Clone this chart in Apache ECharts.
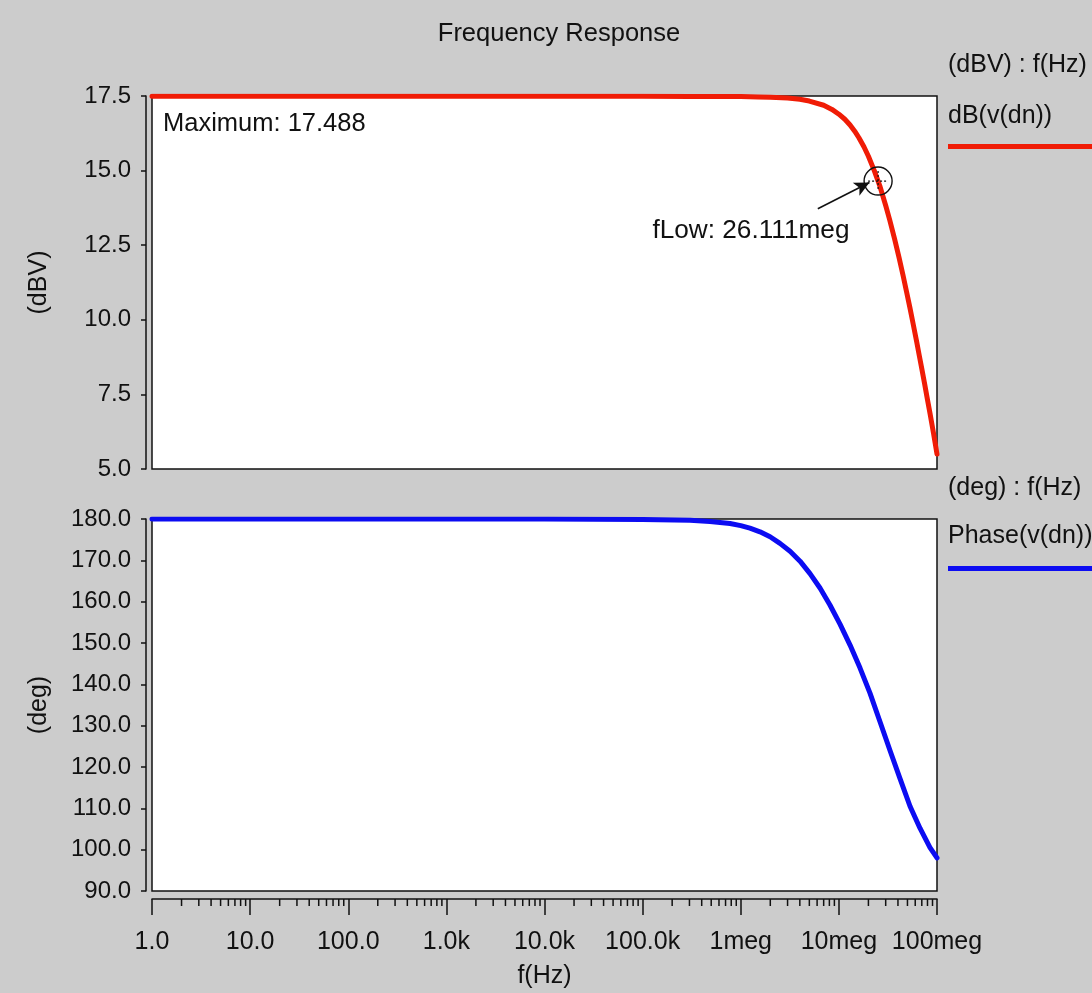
<!DOCTYPE html>
<html>
<head>
<meta charset="utf-8">
<script src="https://cdn.jsdelivr.net/npm/echarts@6/dist/echarts.min.js"></script>
<style>
html,body{margin:0;padding:0;background:#cccccc;}
#chart{width:1092px;height:993px;}
</style>
</head>
<body>
<div id="chart"></div>
<script>
// ---- data ----
const dbFreqHz = [1, 10, 100, 1e3, 1e4, 1e5, 3e5, 1e6, 1.5e6, 2e6, 3e6, 4e6, 5e6, 7e6, 8.5e6, 1e7, 1.15e7, 1.3e7, 1.45e7, 1.6e7, 1.8e7, 2e7, 2.3e7, 2.6111e7, 3e7, 3.3e7, 3.7e7, 4.1e7, 4.5e7, 4.9e7, 5.3e7, 5.7e7, 6.2e7, 6.6e7, 7e7, 7.5e7, 8e7, 8.5e7, 9.2e7, 1e8];
const dbValues = [17.488, 17.488, 17.488, 17.488, 17.488, 17.488, 17.487, 17.48, 17.47, 17.46, 17.43, 17.39, 17.33, 17.19, 17.05, 16.89, 16.72, 16.53, 16.32, 16.1, 15.8, 15.48, 14.99, 14.49, 13.83, 13.34, 12.7, 12.09, 11.5, 10.93, 10.4, 9.88, 9.27, 8.8, 8.36, 7.83, 7.32, 6.85, 6.21, 5.5];
const phaseFreqHz = [1, 10, 100, 1e3, 1e4, 1e5, 3.04e5, 4.86e5, 7.78e5, 1e6, 1.24e6, 1.57e6, 1.99e6, 2.51e6, 3.18e6, 4.02e6, 5.08e6, 6.42e6, 8.11e6, 1.03e7, 1.3e7, 1.64e7, 2.08e7, 2.62e7, 3.32e7, 4.2e7, 5.31e7, 6.71e7, 8.49e7, 1e8];
const phaseValues = [180, 180, 180, 180, 179.98, 179.9, 179.7, 179.4, 178.9, 178.4, 177.8, 176.9, 175.7, 174.1, 172.2, 169.8, 166.8, 163.3, 159.2, 154.5, 149.5, 144, 137.8, 131, 124, 117.2, 110.5, 105.2, 100.5, 98];
const xTickLabels = ['1.0', '10.0', '100.0', '1.0k', '10.0k', '100.0k', '1meg', '10meg', '100meg'];
const minorTickMultipliers = [2, 3, 4, 5, 6, 7, 8, 9];
const decades = [1, 10, 100, 1e3, 1e4, 1e5, 1e6, 1e7];
const maxLabel = 'Maximum: 17.488';
const fLowLabel = 'fLow: 26.111meg';
const fLowMarker = { f: 2.51e7, v: 14.65 };
const arrowStart = { f: 6.1e6, v: 13.72 };
const arrowEnd = { f: 2.05e7, v: 14.6 };
const fLowLabelPos = { f: 1.27e6, v: 13.0 };

const FONT = '"Liberation Sans", Arial, Helvetica, sans-serif';
const TXT = '#111111';

const dbData = dbFreqHz.map((f, i) => [f, dbValues[i]]);
const phData = phaseFreqHz.map((f, i) => [f, phaseValues[i]]);
const minorTicks = [];
decades.forEach(d => minorTickMultipliers.forEach(m => minorTicks.push([d * m, 90])));

const chart = echarts.init(document.getElementById('chart'), null, { renderer: 'canvas' });

const xLabelFmt = v => {
  const i = Math.round(Math.log10(v));
  return xTickLabels[i] !== undefined ? xTickLabels[i] : '';
};
const ts = (size) => ({ fontFamily: FONT, fontSize: size, fontWeight: 'normal', color: TXT });

const option = {
  animation: false,
  backgroundColor: '#cccccc',
  textStyle: { fontFamily: FONT, color: TXT },
  title: [
    { text: 'Frequency Response', left: 554, top: 16, textAlign: 'center', textStyle: ts(25.5) },
    { text: '(dBV) : f(Hz)', left: 943, top: 48, textStyle: ts(25) },
    { text: 'dB(v(dn))', left: 943, top: 99, textStyle: ts(25) },
    { text: '(deg) : f(Hz)', left: 943, top: 471, textStyle: ts(25) },
    { text: 'Phase(v(dn))', left: 943, top: 519, textStyle: ts(25) },
    { text: maxLabel, left: 158, top: 106, textStyle: ts(25.5) }
  ],
  legend: [
    { data: ['dB(v(dn))'], left: 948, top: 144, icon: 'rect', itemWidth: 150, itemHeight: 5, itemGap: 0, formatter: () => '', selectedMode: false, padding: 0 },
    { data: ['Phase(v(dn))'], left: 948, top: 566, icon: 'rect', itemWidth: 150, itemHeight: 5, itemGap: 0, formatter: () => '', selectedMode: false, padding: 0 }
  ],
  grid: [
    { left: 152, top: 96, width: 785, height: 373, show: true, backgroundColor: '#ffffff', borderColor: '#111111', borderWidth: 1.5, containLabel: false },
    { left: 152, top: 519, width: 785, height: 372, show: true, backgroundColor: '#ffffff', borderColor: '#111111', borderWidth: 1.5, containLabel: false }
  ],
  xAxis: [
    { type: 'log', logBase: 10, min: 1, max: 1e8, gridIndex: 0, show: false, splitNumber: 8, splitLine: { show: false } },
    {
      type: 'log', logBase: 10, min: 1, max: 1e8, gridIndex: 1, splitNumber: 8, offset: 8,
      axisLine: { show: true, lineStyle: { color: '#111111', width: 1.5 } },
      axisTick: { show: true, inside: false, length: 16, lineStyle: { color: '#111111', width: 1.5 } },
      axisLabel: { formatter: xLabelFmt, fontFamily: FONT, fontSize: 25, color: TXT, margin: 31, showMinLabel: true, showMaxLabel: true },
      splitLine: { show: false },
      name: 'f(Hz)', nameLocation: 'middle', nameGap: 65,
      nameTextStyle: { fontFamily: FONT, fontSize: 25, color: TXT }
    }
  ],
  yAxis: [
    {
      type: 'value', gridIndex: 0, min: 5, max: 17.5, interval: 2.5, offset: 6,
      axisLine: { show: true, lineStyle: { color: '#111111', width: 1.5 } },
      axisTick: { show: true, length: 5, lineStyle: { color: '#111111', width: 1.5 } },
      axisLabel: { formatter: v => v.toFixed(1), fontFamily: FONT, fontSize: 24, color: TXT, margin: 15 },
      splitLine: { show: false },
      name: '(dBV)', nameLocation: 'middle', nameGap: 94, nameRotate: 90,
      nameTextStyle: { fontFamily: FONT, fontSize: 25, color: TXT }
    },
    {
      type: 'value', gridIndex: 1, min: 90, max: 180, interval: 10, offset: 6,
      axisLine: { show: true, lineStyle: { color: '#111111', width: 1.5 } },
      axisTick: { show: true, length: 5, lineStyle: { color: '#111111', width: 1.5 } },
      axisLabel: { formatter: v => v.toFixed(1), fontFamily: FONT, fontSize: 24, color: TXT, margin: 15 },
      splitLine: { show: false },
      name: '(deg)', nameLocation: 'middle', nameGap: 94, nameRotate: 90,
      nameTextStyle: { fontFamily: FONT, fontSize: 25, color: TXT }
    }
  ],
  series: [
    {
      name: 'dB(v(dn))', type: 'line', xAxisIndex: 0, yAxisIndex: 0, data: dbData,
      showSymbol: false, smooth: false, clip: true,
      lineStyle: { color: '#f01c06', width: 5, join: 'round', cap: 'round' }, itemStyle: { color: '#f01c06' },
      markPoint: {
        silent: true,
        data: [
          { coord: [fLowMarker.f, fLowMarker.v], symbol: 'circle', symbolSize: 28,
            itemStyle: { color: 'rgba(0,0,0,0)', borderColor: '#111111', borderWidth: 1.4 }, label: { show: false } },
          { coord: [fLowMarker.f, fLowMarker.v], symbol: 'path://M0,10 L20,10 M10,0 L10,20', symbolSize: 20,
            itemStyle: { color: 'rgba(0,0,0,0)', borderColor: '#111111', borderWidth: 1.2, borderType: [2, 2] }, label: { show: false } },
          { coord: [fLowLabelPos.f, fLowLabelPos.v], symbol: 'circle', symbolSize: 1,
            itemStyle: { color: 'rgba(0,0,0,0)' },
            label: { show: true, position: 'inside', formatter: fLowLabel, fontFamily: FONT, fontSize: 26.2, color: TXT } }
        ]
      },
      markLine: {
        silent: true, symbol: ['none', 'arrow'], symbolSize: [11, 15],
        lineStyle: { color: '#111111', width: 1.6, type: 'solid' },
        label: { show: false },
        data: [[{ coord: [arrowStart.f, arrowStart.v] }, { coord: [arrowEnd.f, arrowEnd.v] }]]
      }
    },
    {
      name: 'Phase(v(dn))', type: 'line', xAxisIndex: 1, yAxisIndex: 1, data: phData,
      showSymbol: false, smooth: false, clip: true,
      lineStyle: { color: '#0c0cf2', width: 5, join: 'round', cap: 'round' }, itemStyle: { color: '#0c0cf2' }
    },
    {
      name: 'minorTicks', type: 'custom', xAxisIndex: 1, yAxisIndex: 1, data: minorTicks,
      silent: true, clip: false,
      renderItem: (params, api) => {
        const p = api.coord([api.value(0), api.value(1)]);
        const y0 = p[1] + 8;
        return { type: 'line', shape: { x1: p[0], y1: y0, x2: p[0], y2: y0 + 7 }, style: { stroke: '#111111', lineWidth: 1.5 } };
      }
    }
  ]
};
chart.setOption(option);
</script>
</body>
</html>
